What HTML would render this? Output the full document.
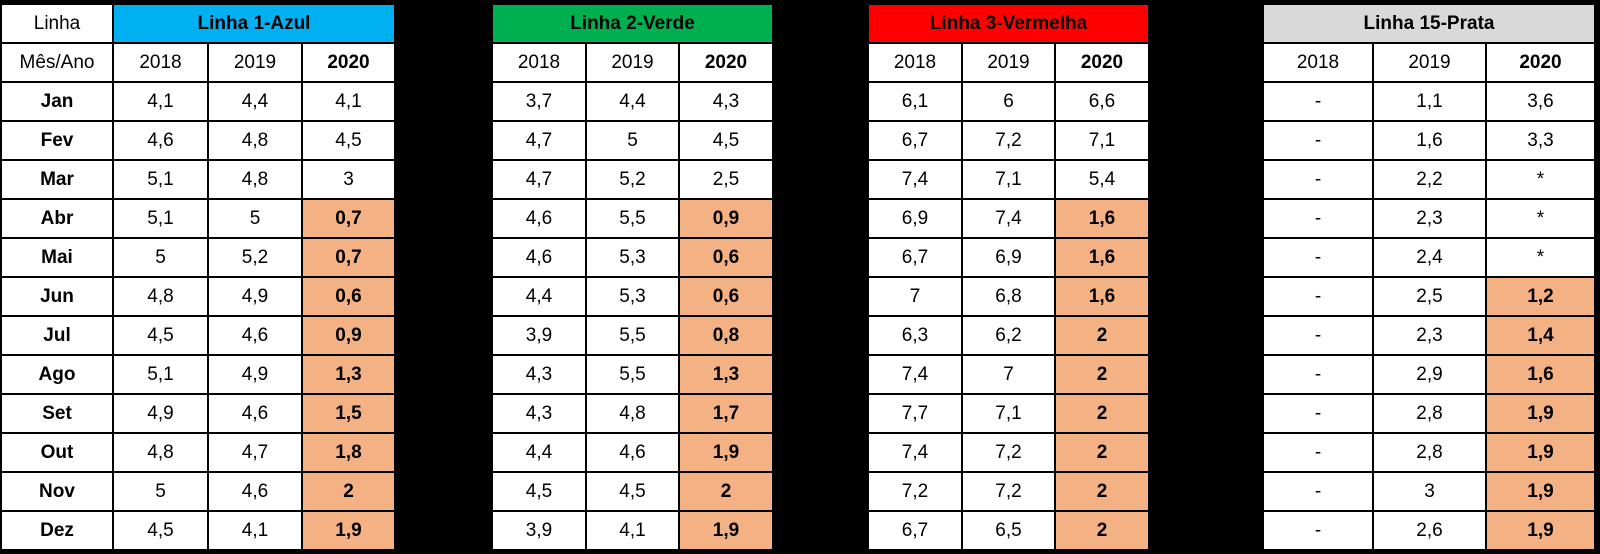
<!DOCTYPE html>
<html><head><meta charset="utf-8"><style>
body{margin:0;background:#000;width:1600px;height:554px;overflow:hidden;position:relative;font-family:"Liberation Sans",sans-serif}
.c{position:absolute;background:#fff;display:flex;align-items:center;justify-content:center;font-size:19px;color:#000;box-sizing:border-box}
.b{font-weight:bold}
</style></head><body>
<script>
const months=["Jan","Fev","Mar","Abr","Mai","Jun","Jul","Ago","Set","Out","Nov","Dez"];
const years=["2018","2019","2020"];
const lineNames=["Linha 1-Azul","Linha 2-Verde","Linha 3-Vermelha","Linha 15-Prata"];
const l1_2018=["4,1","4,6","5,1","5,1","5","4,8","4,5","5,1","4,9","4,8","5","4,5"];
const l1_2019=["4,4","4,8","4,8","5","5,2","4,9","4,6","4,9","4,6","4,7","4,6","4,1"];
const l1_2020=["4,1","4,5","3","0,7","0,7","0,6","0,9","1,3","1,5","1,8","2","1,9"];
const l2_2018=["3,7","4,7","4,7","4,6","4,6","4,4","3,9","4,3","4,3","4,4","4,5","3,9"];
const l2_2019=["4,4","5","5,2","5,5","5,3","5,3","5,5","5,5","4,8","4,6","4,5","4,1"];
const l2_2020=["4,3","4,5","2,5","0,9","0,6","0,6","0,8","1,3","1,7","1,9","2","1,9"];
const l3_2018=["6,1","6,7","7,4","6,9","6,7","7","6,3","7,4","7,7","7,4","7,2","6,7"];
const l3_2019=["6","7,2","7,1","7,4","6,9","6,8","6,2","7","7,1","7,2","7,2","6,5"];
const l3_2020=["6,6","7,1","5,4","1,6","1,6","1,6","2","2","2","2","2","2"];
const l15_2018=["-","-","-","-","-","-","-","-","-","-","-","-"];
const l15_2019=["1,1","1,6","2,2","2,3","2,4","2,5","2,3","2,9","2,8","2,8","3","2,6"];
const l15_2020=["3,6","3,3","*","*","*","1,2","1,4","1,6","1,9","1,9","1,9","1,9"];
const highlightFrom=[3,3,3,5];
const series=[[l1_2018,l1_2019,l1_2020],[l2_2018,l2_2019,l2_2020],[l3_2018,l3_2019,l3_2020],[l15_2018,l15_2019,l15_2020]];
const colors=["#00b0f0","#00b050","#ff0000","#d9d9d9"];
const groupX=[[113,208,302,395],[492,586,679,773],[868,962,1055,1149],[1263,1373,1486,1595]];
const top0=4,rh=39;
function cell(x1,y1,x2,y2,txt,cls,bg,name){
  const d=document.createElement('div');
  d.className='c '+(cls||'');
  d.style.left=(x1+1)+'px';d.style.top=(y1+1)+'px';
  d.style.width=(x2-x1-2)+'px';d.style.height=(y2-y1-2)+'px';
  if(bg)d.style.background=bg;
  d.textContent=txt;
  
  
  document.body.appendChild(d);
}
cell(1,top0,113,top0+rh,"Linha","",null,"linha-label");
cell(1,top0+rh,113,top0+2*rh,"Mês/Ano","",null,"mes-ano-label");
months.forEach((m,i)=>cell(1,top0+(i+2)*rh,113,top0+(i+3)*rh,m,"b",null,"month-"+m.toLowerCase()));
series.forEach((s,g)=>{
  const gx=groupX[g];
  cell(gx[0],top0,gx[3],top0+rh,lineNames[g],"b",colors[g],"line-header-"+(g+1));
  years.forEach((y,k)=>cell(gx[k],top0+rh,gx[k+1],top0+2*rh,y,k==2?"b":"",null,"year-header-"+y));
  s.forEach((vals,k)=>vals.forEach((v,i)=>{
    const hl=k==2&&i>=highlightFrom[g];
    cell(gx[k],top0+(i+2)*rh,gx[k+1],top0+(i+3)*rh,v,hl?"b":"",hl?"#f4b183":null,"value-cell");
  }));
});
</script>
</body></html>
